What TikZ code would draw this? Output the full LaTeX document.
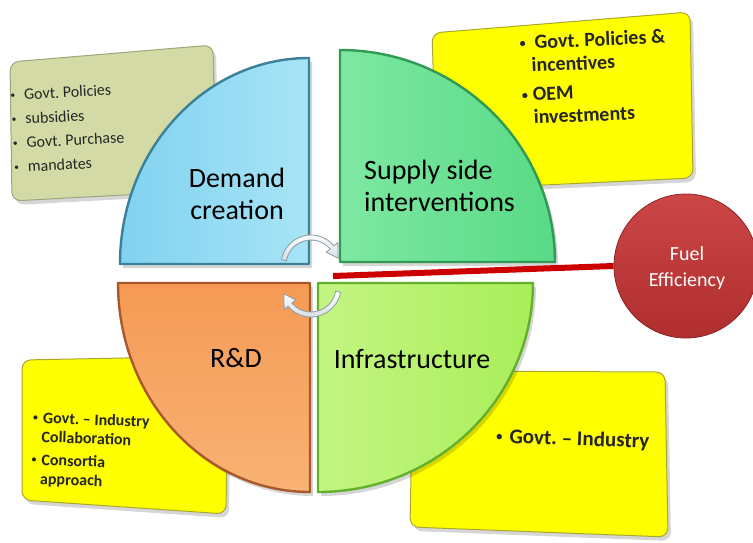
\documentclass[tikz,border=0pt]{standalone}
\usepackage{fontspec}
\usepackage{graphicx}
\setmainfont{Carlito}
\frenchspacing
\newcommand{\bulitem}{\raisebox{0.12em}{\scalebox{0.6}{\textbullet}}}
\definecolor{tlfill}{HTML}{D3DAA5}
\definecolor{tldraw}{HTML}{9CA67C}
\definecolor{yel}{HTML}{FFFF00}
\definecolor{yeldraw}{HTML}{A8A830}
\definecolor{bluefill}{HTML}{80D2F0}
\definecolor{bluelight}{HTML}{A8E4F6}
\definecolor{bluedraw}{HTML}{3A8098}
\definecolor{greenfill}{HTML}{58DA86}
\definecolor{greenlight}{HTML}{7EE8A2}
\definecolor{greendraw}{HTML}{2E9A52}
\definecolor{orangefill}{HTML}{F59A55}
\definecolor{orangelight}{HTML}{F8B274}
\definecolor{orangedraw}{HTML}{A8582A}
\definecolor{limefill}{HTML}{A9EE5A}
\definecolor{limelight}{HTML}{C4F582}
\definecolor{limedraw}{HTML}{62B02C}
\definecolor{fuelred}{HTML}{B02E2E}
\definecolor{fuellight}{HTML}{CC4646}
\definecolor{linered}{HTML}{CC0000}
\definecolor{arrowedge}{HTML}{8C9CA4}
\definecolor{arrowfill}{HTML}{D4DDE2}
\begin{document}
\begin{tikzpicture}[x=1pt,y=-1pt,
  quad/.style={line width=2.4pt, line join=round},
  infobox/.style={rounded corners=9pt, line width=1pt},
  shadowshape/.style={fill=black, opacity=0.16, rounded corners=9pt},
  band/.style={draw=arrowedge, line width=0.8pt, top color=white, bottom color=arrowfill},
  big/.style={font=\fontsize{28}{32}\selectfont, text=black, inner sep=0pt},
  smalltxt/.style={font=\fontsize{16}{24}\selectfont, align=left, inner sep=0pt, text=black!85},
  boldtxt/.style={font=\bfseries\fontsize{20}{23}\selectfont, align=left, inner sep=0pt, text=black!85},
  boldmid/.style={font=\bfseries\fontsize{16}{19}\selectfont, align=left, inner sep=0pt, text=black!85},
  boldbig/.style={font=\bfseries\fontsize{21}{24}\selectfont, align=left, inner sep=0pt, text=black!85},
  fuelball/.style={circle, minimum size=144pt, inner sep=0pt, top color=fuellight, bottom color=fuelred, draw=fuelred!80!black, line width=0.8pt},
  fueltext/.style={text=white, align=center, inner sep=0pt, font=\fontsize{20}{26}\selectfont},
  redline/.style={draw=linered, line width=6pt}
]
\useasboundingbox (0,0) rectangle (753,542);

% ---- info boxes (shadows) ----
\begin{scope}[shift={(3,4)}]
\path[shadowshape] (10,62) -- (213,45) -- (216,190) -- (12,201) -- cycle;
\path[shadowshape] (432,33) -- (690,12) -- (693,178) -- (437,190) -- cycle;
\path[shadowshape] (22,360) -- (228,356) -- (226,514) -- (22,500) -- cycle;
\path[shadowshape] (413,371) -- (665,372) -- (668,537) -- (410,527) -- cycle;
\end{scope}
% ---- info boxes ----
\path[infobox, fill=tlfill, draw=tldraw] (10,62) -- (213,45) -- (216,190) -- (12,201) -- cycle;
\path[infobox, fill=yel, draw=yeldraw] (432,33) -- (690,12) -- (693,178) -- (437,190) -- cycle;
\path[infobox, fill=yel, draw=yeldraw] (22,360) -- (228,356) -- (226,514) -- (22,500) -- cycle;
\path[infobox, fill=yel, draw=yeldraw] (413,371) -- (665,372) -- (668,537) -- (410,527) -- cycle;

% ---- quadrant shadows ----
\begin{scope}[shift={(3,4)}]
\fill[black, opacity=0.16] (309,264) -- (120,264) arc[start angle=180,end angle=90,x radius=189pt,y radius=206pt] -- cycle;
\fill[black, opacity=0.16] (340,262) -- (340,50) arc[start angle=90,end angle=0,x radius=215pt,y radius=212pt] -- cycle;
\fill[black, opacity=0.16] (310,283) -- (310,492) arc[start angle=270,end angle=180,x radius=192pt,y radius=209pt] -- cycle;
\fill[black, opacity=0.16] (318,283) -- (533,283) arc[start angle=0,end angle=-90,x radius=215pt,y radius=209pt] -- cycle;
\end{scope}
% ---- quadrants ----
\path[quad, draw=bluedraw, left color=bluefill, right color=bluelight] (309,264) -- (120,264) arc[start angle=180,end angle=90,x radius=189pt,y radius=206pt] -- cycle;
\path[quad, draw=greendraw, left color=greenlight, right color=greenfill] (340,262) -- (340,50) arc[start angle=90,end angle=0,x radius=215pt,y radius=212pt] -- cycle;
\path[quad, draw=orangedraw, top color=orangefill, bottom color=orangelight] (310,283) -- (310,492) arc[start angle=270,end angle=180,x radius=192pt,y radius=209pt] -- cycle;
\path[quad, draw=limedraw, left color=limelight, right color=limefill] (318,283) -- (533,283) arc[start angle=0,end angle=-90,x radius=215pt,y radius=209pt] -- cycle;

% ---- quadrant labels ----
\node[big, align=center] (demand) at (237,194) {Demand\\creation};
\node[big, align=left, anchor=west] (supply) at (364,186) {Supply side\\interventions};
\node[big, anchor=base] (rnd) at (236,367) {R\&D};
\node[big, anchor=base] (infra) at (412,368) {Infrastructure};

% ---- box texts ----
\node[smalltxt, anchor=west, rotate=3] (tltext) at (12,131)
  {\bulitem\hspace{9pt}Govt. Policies\\ \bulitem\hspace{9pt}subsidies\\ \bulitem\hspace{9pt}Govt. Purchase\\ \bulitem\hspace{9pt}mandates};
\node[boldtxt, anchor=west, rotate=2.5] (trtext) at (521,80)
  {\bulitem\hspace{9pt}Govt. Policies \&\\ \hspace*{11pt}incentives\\[6pt] \bulitem\hspace{5pt}OEM\\ \hspace*{11pt}investments};
\node[boldmid, anchor=west, rotate=-2] (bltext) at (32,449)
  {\bulitem\hspace{5pt}Govt. \textendash\ Industry\\ \hspace*{9pt}Collaboration\\[4pt] \bulitem\hspace{5pt}Consortia\\ \hspace*{9pt}approach};
\node[boldbig, anchor=west, rotate=-2] (brtext) at (496,437) {\bulitem\hspace{7pt}Govt. \textendash\ Industry};

% ---- cycle arrows ----
\coordinate (ca) at (311,265);
\coordinate (cb) at (311,287);
\path[band] ([shift={(170:30pt)}]ca) arc[start angle=170,end angle=40,radius=30pt]
  -- ([shift={(40:35pt)}]ca) -- ([shift={(14:28pt)}]ca) -- ([shift={(40:20pt)}]ca)
  -- ([shift={(40:25pt)}]ca) arc[start angle=40,end angle=170,radius=25pt] -- cycle;
\path[band] ([shift={(-10:30pt)}]cb) arc[start angle=-10,end angle=-140,radius=30pt]
  -- ([shift={(-140:35pt)}]cb) -- ([shift={(-166:28pt)}]cb) -- ([shift={(-140:20pt)}]cb)
  -- ([shift={(-140:25pt)}]cb) arc[start angle=-140,end angle=-10,radius=25pt] -- cycle;

% ---- fuel efficiency ----
\node[fuelball] (fuel) at (686,266) {};
\node[fueltext] (fuellabel) at (687,268) {Fuel\\Efficiency};
\coordinate (hub) at (333,276);
\draw[redline] (hub) -- (fuel.west);
\end{tikzpicture}
\end{document}
